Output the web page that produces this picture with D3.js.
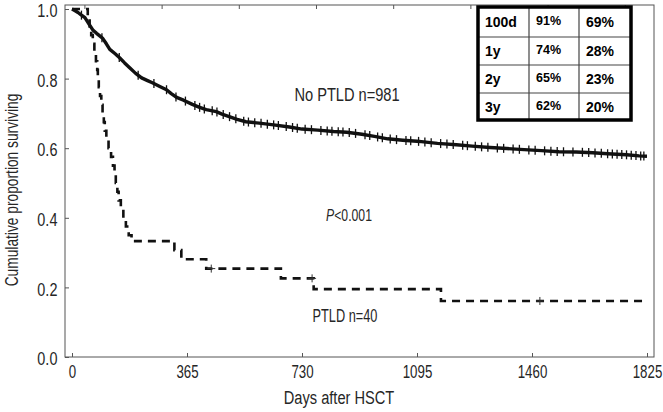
<!DOCTYPE html>
<html><head><meta charset="utf-8">
<script src="https://cdn.jsdelivr.net/npm/d3@7/dist/d3.min.js"></script>
<style>
html,body{margin:0;padding:0;background:#fff;}
svg{display:block;}
text{font-family:'Liberation Sans',Arial,sans-serif;fill:#262626;}
.tbl{font-family:'Liberation Sans',Arial,sans-serif;font-weight:bold;fill:#000;}
</style></head>
<body>
<svg id="c" width="663" height="412"></svg>
<script>
// ---- data ----
const xTicks = [0, 365, 730, 1095, 1460, 1825];
const yTicks = [0, 0.2, 0.4, 0.6, 0.8, 1.0];
const topTicks = [41, 286, 531, 776, 1021, 1266, 1511, 1756];

const noPtldDays = [0,10,19,29,41,53,66,78,89,98,109,120,136,151,167,183,202,221,238,255,277,300,315,332,354,382,403,426,458,476,499,524,552,594,640,690,730,780,830,872,920,960,1002,1050,1095,1109,1160,1220,1270,1327,1380,1435,1490,1545,1600,1653,1700,1760,1800,1825];
const noPtldSurv = [1.0,0.995,0.99,0.983,0.975,0.958,0.94,0.93,0.922,0.915,0.9,0.884,0.872,0.86,0.845,0.831,0.815,0.802,0.795,0.788,0.778,0.768,0.757,0.746,0.738,0.726,0.718,0.711,0.705,0.698,0.691,0.683,0.676,0.672,0.667,0.661,0.655,0.652,0.648,0.646,0.64,0.634,0.627,0.623,0.62,0.619,0.614,0.61,0.606,0.602,0.599,0.596,0.593,0.59,0.589,0.587,0.584,0.581,0.578,0.577];
const noPtldCensor = [30,95,150,210,260,300,330,360,390,405,420,445,460,480,500,520,545,560,580,600,620,640,655,680,700,715,740,760,790,810,825,845,860,880,900,930,945,970,985,1010,1030,1060,1075,1100,1120,1140,1170,1190,1210,1240,1255,1280,1300,1320,1350,1370,1400,1420,1450,1470,1500,1520,1540,1560,1590,1620,1640,1660,1680,1700,1715,1730,1745,1760,1775,1790,1805,1815];

const ptldDays = [0,50,56,61,66,71,76,80,82,85,89,93,97,101,104,109,116,124,130,135,139,144,148,155,163,171,180,189,325,347,426,663,767,1171,1825];
const ptldSurv = [1.0,0.975,0.95,0.925,0.9,0.875,0.85,0.825,0.8,0.775,0.75,0.725,0.7,0.675,0.65,0.625,0.6,0.575,0.55,0.525,0.5,0.475,0.45,0.425,0.4,0.375,0.35,0.333,0.307,0.281,0.254,0.226,0.195,0.161,0.161];
const ptldCensor = [442, 762, 1485];

const tableRows = ["100d", "1y", "2y", "3y"];
const tableNoPtld = ["91%", "74%", "65%", "62%"];
const tablePtld = ["69%", "28%", "23%", "20%"];

// ---- layout ----
const svg = d3.select("#c");
const L = 65, R = 654, T = 5, B = 357;
const x = d3.scaleLinear().domain([0, 1825]).range([72, 647]);
const y = d3.scaleLinear().domain([0, 1]).range([357, 9]);

// condensed text: group translated to anchor, scaled horizontally
function label(px, py, size, sx, rot) {
  const g = svg.append("g").attr("transform", `translate(${px},${py})` + (rot ? ` rotate(${rot})` : "") + ` scale(${sx},1)`);
  return g.append("text").attr("text-anchor", "middle").style("font-size", size + "px");
}

// frame
svg.append("rect").attr("x", L).attr("y", T).attr("width", R - L).attr("height", B - T)
  .attr("fill", "none").attr("stroke", "#555").attr("stroke-width", 1);

// axes (inner ticks)
const xAxis = d3.axisBottom(x).tickValues(xTicks).tickSize(-4).tickPadding(8).tickFormat(d3.format("d"));
const gx = svg.append("g").attr("transform", `translate(0,${B})`).call(xAxis);
gx.select(".domain").remove();
gx.selectAll("line").attr("stroke", "#555");
gx.selectAll("text").style("font-size", "19px").attr("fill", "#262626").attr("transform", "scale(0.7,1)");

const yAxis = d3.axisLeft(y).tickValues(yTicks).tickSize(-4).tickPadding(10).tickFormat(d3.format(".1f"));
const gy = svg.append("g").attr("transform", `translate(${L},0)`).call(yAxis);
gy.select(".domain").remove();
gy.selectAll("line").attr("stroke", "#555");
gy.selectAll("text").style("font-size", "19px").attr("fill", "#262626").attr("dy", "0.4em").attr("transform", "scale(0.76,1)");

svg.append("g").selectAll("line").data(topTicks).join("line")
  .attr("x1", d => x(d)).attr("x2", d => x(d)).attr("y1", T).attr("y2", T + 4)
  .attr("stroke", "#555");

// axis titles
label(339, 404, 19, 0.77).text("Days after HSCT");
label(18, 190, 18, 0.765, -90).text("Cumulative proportion surviving");

// No PTLD curve
const noPtld = noPtldDays.map((d, i) => [d, noPtldSurv[i]]);
svg.append("path").datum(noPtld)
  .attr("d", d3.line().x(d => x(d[0])).y(d => y(d[1])))
  .attr("fill", "none").attr("stroke", "#111").attr("stroke-width", 3.4).attr("stroke-linejoin", "round");
const survAt = d3.scaleLinear().domain(noPtldDays).range(noPtldSurv);
svg.append("g").selectAll("line").data(noPtldCensor).join("line")
  .attr("x1", d => x(d)).attr("x2", d => x(d))
  .attr("y1", d => y(survAt(d)) - 4.5).attr("y2", d => y(survAt(d)) + 4.5)
  .attr("stroke", "#111").attr("stroke-width", 1.3);

// PTLD curve
const ptld = ptldDays.map((d, i) => [d, ptldSurv[i]]);
svg.append("path").datum(ptld)
  .attr("d", d3.line().curve(d3.curveStepAfter).x(d => x(d[0])).y(d => y(d[1])))
  .attr("fill", "none").attr("stroke", "#111").attr("stroke-width", 2.6).attr("stroke-dasharray", "8,6");
const ptldAt = d => ptldSurv[d3.bisectRight(ptldDays, d) - 1];
const pc = svg.append("g").selectAll("g").data(ptldCensor).join("g");
pc.append("line").attr("x1", d => x(d)).attr("x2", d => x(d))
  .attr("y1", d => y(ptldAt(d)) - 4).attr("y2", d => y(ptldAt(d)) + 4).attr("stroke", "#333").attr("stroke-width", 1);
pc.append("line").attr("x1", d => x(d) - 4).attr("x2", d => x(d) + 4)
  .attr("y1", d => y(ptldAt(d))).attr("y2", d => y(ptldAt(d))).attr("stroke", "#333").attr("stroke-width", 1);

// annotations
label(347, 101, 19, 0.77).text("No PTLD n=981");
const pt = label(349, 221, 17, 0.72);
pt.append("tspan").style("font-style", "italic").text("P");
pt.append("tspan").text("<0.001");
label(345, 322, 18, 0.71).text("PTLD n=40");

// table
const tX = [478, 529, 579, 631], tY = [7, 37, 65, 93, 120];
const tg = svg.append("g");
tg.append("rect").attr("x", tX[0]).attr("y", tY[0]).attr("width", tX[3] - tX[0]).attr("height", tY[4] - tY[0])
  .attr("fill", "#fff").attr("stroke", "none");
[1, 2].forEach(i => tg.append("line").attr("x1", tX[i]).attr("x2", tX[i]).attr("y1", tY[0]).attr("y2", tY[4]).attr("stroke", "#444").attr("stroke-width", 1.2));
[1, 2, 3].forEach(i => tg.append("line").attr("x1", tX[0]).attr("x2", tX[3]).attr("y1", tY[i]).attr("y2", tY[i]).attr("stroke", "#444").attr("stroke-width", 1.2));
tg.append("rect").attr("x", tX[0]).attr("y", tY[0]).attr("width", tX[3] - tX[0]).attr("height", tY[4] - tY[0])
  .attr("fill", "none").attr("stroke", "#000").attr("stroke-width", 3.5);
const cols = [tableRows, tableNoPtld, tablePtld];
const colOff = [0, -2, 0];
const fs = [14, 12.5, 14];
cols.forEach((col, c) => {
  tg.selectAll(null).data(col).join("text").attr("class", "tbl")
    .attr("x", tX[c] + 7).attr("y", (d, i) => (tY[i] + tY[i + 1]) / 2 + 5 + colOff[c])
    .style("font-size", fs[c] + "px").text(d => d);
});
</script>
</body></html>
